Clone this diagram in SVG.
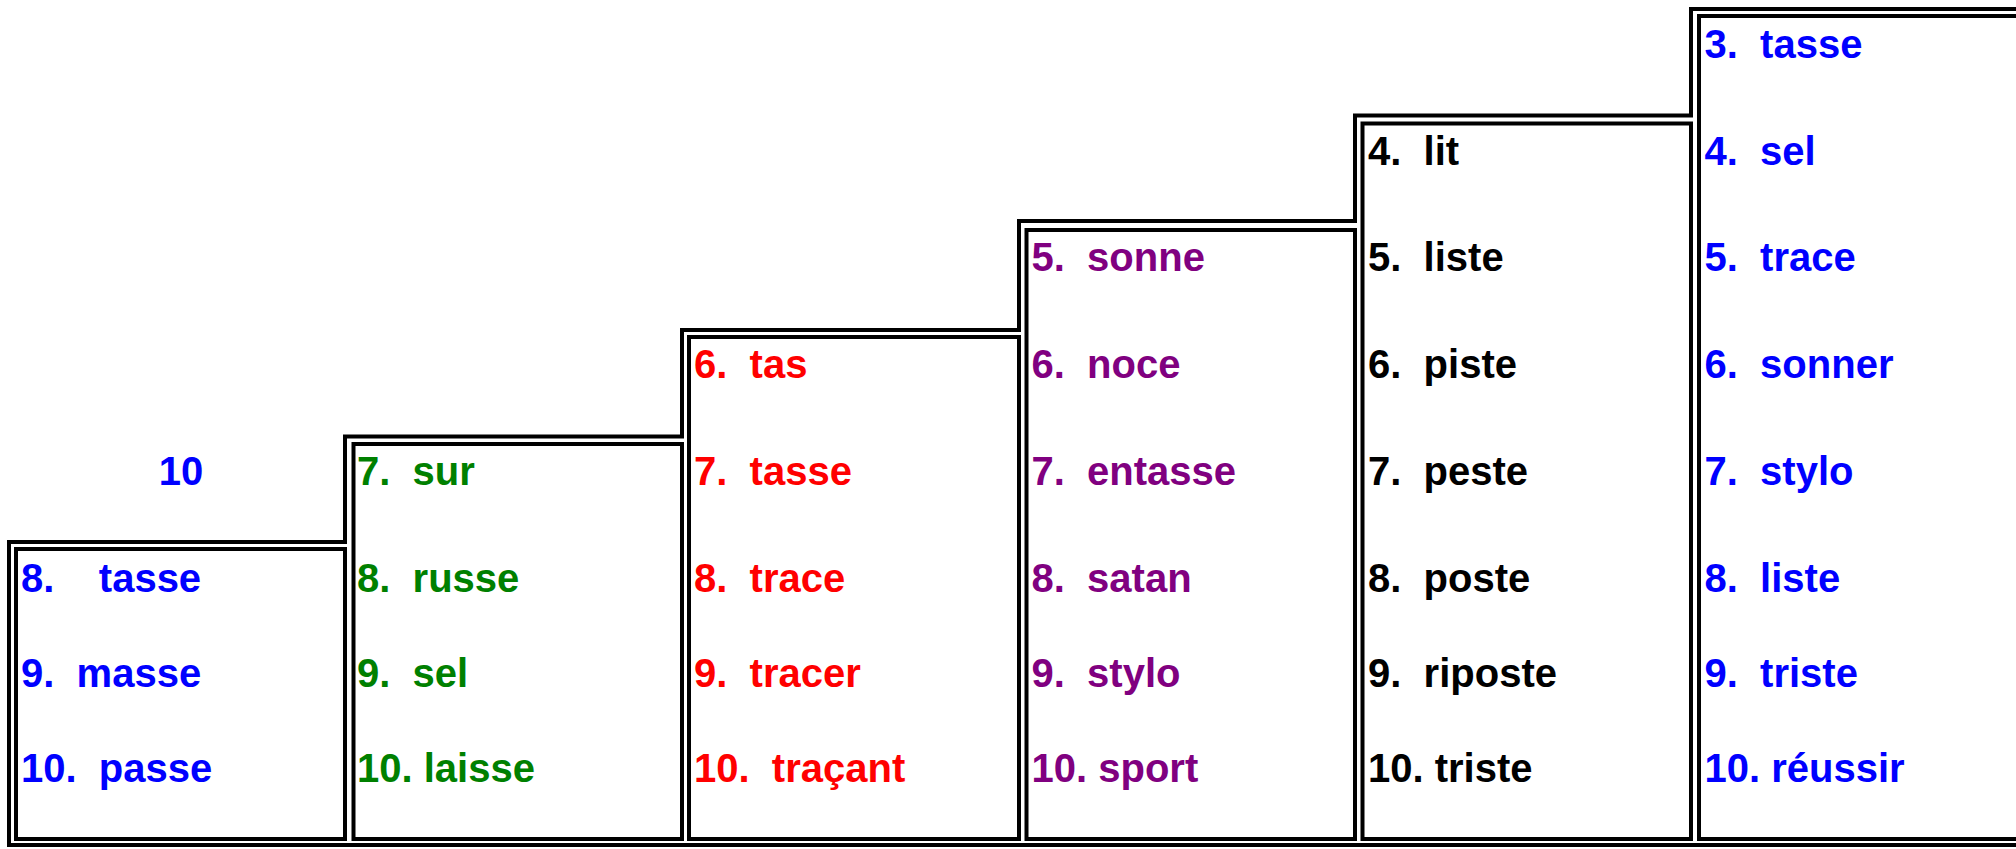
<svg xmlns="http://www.w3.org/2000/svg" width="2016" height="849" viewBox="0 0 2016 849" xml:space="preserve">
<style>
  .ln { fill: none; stroke: #000; stroke-width: 4; }
  text { font-family: "Liberation Sans", Arial, sans-serif; font-weight: bold; font-size: 40px; white-space: pre; }
  .b { fill: #0000FF; }
  .g { fill: #008000; }
  .r { fill: #FF0000; }
  .p { fill: #800080; }
  .k { fill: #000000; }
</style>
<rect x="0" y="0" width="2016" height="849" fill="#fff"/>
<g id="frame">
  <path class="ln" d="M2020 845 H9 V542 H345 V436.5 H682 V330 H1019 V221 H1355 V115.5 H1691 V9 H2020"/>
</g>
<g id="col1">
  <rect class="ln" x="16" y="549" width="329" height="290"/>
  <text class="b" x="181" y="485" text-anchor="middle">10</text>
  <text class="b" x="21" y="592">8.    tasse</text>
  <text class="b" x="21" y="687">9.  masse</text>
  <text class="b" x="21" y="782">10.  passe</text>
</g>
<g id="col2">
  <rect class="ln" x="353.5" y="444" width="328.5" height="395"/>
  <text class="g" x="357" y="485">7.  sur</text>
  <text class="g" x="357" y="592">8.  russe</text>
  <text class="g" x="357" y="687">9.  sel</text>
  <text class="g" x="357" y="782">10. laisse</text>
</g>
<g id="col3">
  <rect class="ln" x="689" y="337" width="330" height="502"/>
  <text class="r" x="694" y="378">6.  tas</text>
  <text class="r" x="694" y="485">7.  tasse</text>
  <text class="r" x="694" y="592">8.  trace</text>
  <text class="r" x="694" y="687">9.  tracer</text>
  <text class="r" x="694" y="782">10.  traçant</text>
</g>
<g id="col4">
  <rect class="ln" x="1026.5" y="230" width="328.5" height="609"/>
  <text class="p" x="1031.5" y="271">5.  sonne</text>
  <text class="p" x="1031.5" y="378">6.  noce</text>
  <text class="p" x="1031.5" y="485">7.  entasse</text>
  <text class="p" x="1031.5" y="592">8.  satan</text>
  <text class="p" x="1031.5" y="687">9.  stylo</text>
  <text class="p" x="1031.5" y="782">10. sport</text>
</g>
<g id="col5">
  <rect class="ln" x="1362.5" y="123.5" width="328.5" height="715.5"/>
  <text class="k" x="1368" y="165">4.  lit</text>
  <text class="k" x="1368" y="271">5.  liste</text>
  <text class="k" x="1368" y="378">6.  piste</text>
  <text class="k" x="1368" y="485">7.  peste</text>
  <text class="k" x="1368" y="592">8.  poste</text>
  <text class="k" x="1368" y="687">9.  riposte</text>
  <text class="k" x="1368" y="782">10. triste</text>
</g>
<g id="col6">
  <path class="ln" d="M2020 16 H1699 V839 H2020"/>
  <text class="b" x="1704.5" y="58">3.  tasse</text>
  <text class="b" x="1704.5" y="165">4.  sel</text>
  <text class="b" x="1704.5" y="271">5.  trace</text>
  <text class="b" x="1704.5" y="378">6.  sonner</text>
  <text class="b" x="1704.5" y="485">7.  stylo</text>
  <text class="b" x="1704.5" y="592">8.  liste</text>
  <text class="b" x="1704.5" y="687">9.  triste</text>
  <text class="b" x="1704.5" y="782">10. réussir</text>
</g>
</svg>
